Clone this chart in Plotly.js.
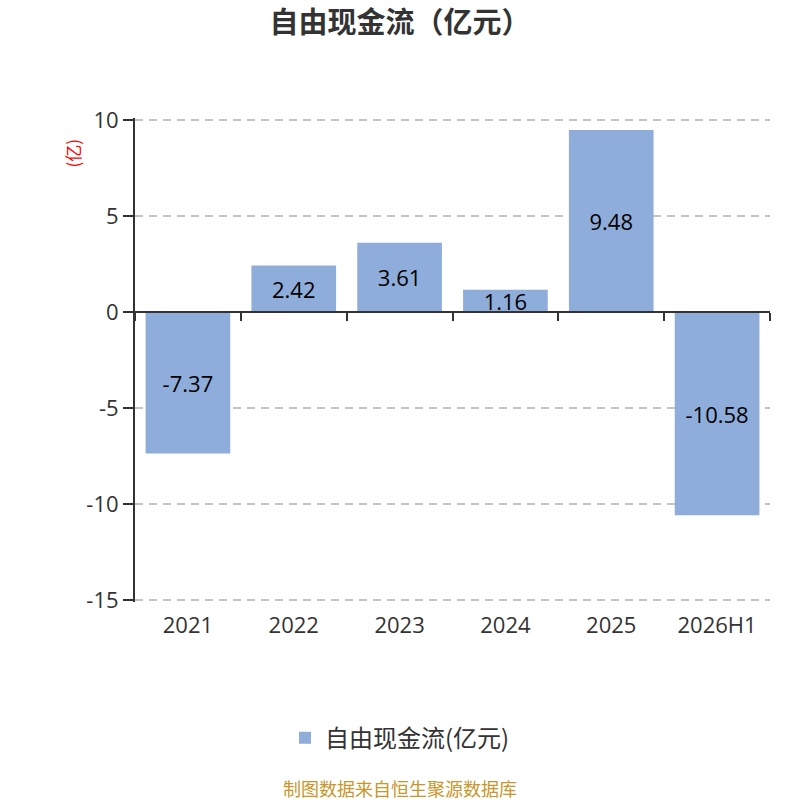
<!DOCTYPE html>
<html>
<head>
<meta charset="utf-8">
<script src="https://cdn.plot.ly/plotly-3.0.1.min.js"></script>
<style>
  html, body { margin: 0; padding: 0; background: #fff; }
  #chart { width: 800px; height: 800px; }
</style>
</head>
<body>
<div id="chart"></div>
<script>
/* 自由现金流 bar chart */

const FONT = '"Open Sans", "Noto Sans CJK SC", sans-serif';
const CJK = '"Noto Sans CJK SC", "Noto Sans", sans-serif';

const periods = ['2021', '2022', '2023', '2024', '2025', '2026H1'];
const fcf = [-7.37, 2.42, 3.61, 1.16, 9.48, -10.58];
const yTickVals = [10, 5, 0, -5, -10, -15];
const yTickText = ['10', '5', '0', '-5', '-10', '-15'];
const yRange = [-15, 10];

const barTrace = {
    type: 'bar',
    x: periods,
    y: fcf,
    name: '自由现金流(亿元)',
    marker: { color: '#8eadda' },
    text: fcf.map(v => v.toFixed(2)),
    textposition: 'inside',
    insidetextanchor: 'middle',
    constraintext: 'none',
    textfont: { size: 22, color: '#000', family: FONT },
    hoverinfo: 'x+y',
};

// empty trace so the zero-line axis (x2) is drawn
const zeroAxisTrace = {
    type: 'scatter',
    x: periods,
    y: periods.map(() => 0),
    xaxis: 'x2',
    mode: 'none',
    showlegend: false,
    hoverinfo: 'skip',
};

const pad = 0.1; // keeps the end gridlines at 10 and -15 visible
const yLo = yRange[0] - pad;
const yHi = yRange[1] + pad;

// page centre (x = 400px) expressed in plot-area fractions
const ML = 135, MR = 30;
const pageMid = (400 - ML) / (800 - ML - MR);

const layout = {
    width: 800,
    height: 800,
    paper_bgcolor: '#fff',
    plot_bgcolor: '#fff',
    margin: { t: 118, r: MR, b: 198, l: ML },
    font: { family: FONT, color: '#333' },
    title: {
        text: '<b>自由现金流（亿元）</b>',
        font: { size: 29, color: '#333', family: CJK },
        x: 0.5,
        xanchor: 'center',
        y: 0.972,
        yanchor: 'middle',
    },
    bargap: 0.2,
    xaxis: {
        type: 'category',
        showline: false,
        showgrid: false,
        zeroline: false,
        ticks: '',
        tickfont: { size: 22, color: '#333' },
        ticklabelstandoff: 8,
    },
    xaxis2: {
        type: 'category',
        overlaying: 'x',
        matches: 'x',
        anchor: 'free',
        position: (0 - yLo) / (yHi - yLo),
        side: 'bottom',
        showline: true,
        linecolor: '#333',
        linewidth: 2,
        ticks: 'outside',
        tickson: 'boundaries',
        ticklen: 8,
        tickwidth: 2,
        tickcolor: '#333',
        showticklabels: false,
        showgrid: false,
    },
    yaxis: {
        range: [yLo, yHi],
        tickvals: yTickVals,
        ticktext: yTickText,
        showline: true,
        linecolor: '#333',
        linewidth: 2,
        ticks: 'outside',
        ticklen: 10,
        tickwidth: 2,
        tickcolor: '#333',
        tickfont: { size: 22, color: '#333' },
        showgrid: true,
        gridcolor: '#c4c4c4',
        griddash: '8px,6px',
        gridwidth: 2,
        zeroline: false,
    },
    legend: {
        orientation: 'h',
        x: pageMid,
        xanchor: 'center',
        y: -0.235,
        yanchor: 'top',
        font: { size: 24, color: '#333', family: CJK },
    },
    annotations: [
        {
            text: '(亿)',
            xref: 'paper',
            yref: 'paper',
            x: -0.099,
            y: 0.927,
            xanchor: 'center',
            yanchor: 'middle',
            textangle: -90,
            showarrow: false,
            font: { size: 17, color: '#ff0000', family: CJK },
        },
        {
            text: '制图数据来自恒生聚源数据库',
            xref: 'paper',
            yref: 'paper',
            x: pageMid,
            y: -0.385,
            xanchor: 'center',
            yanchor: 'middle',
            showarrow: false,
            font: { size: 18, color: '#c8962a', family: CJK },
        },
    ],
};

Plotly.newPlot('chart', [barTrace, zeroAxisTrace], layout, { displayModeBar: false, staticPlot: true });
</script>
</body>
</html>
